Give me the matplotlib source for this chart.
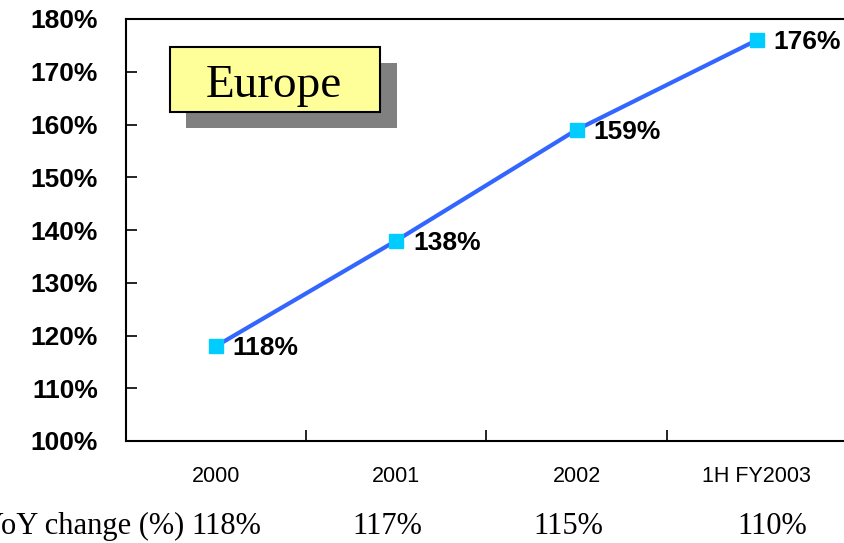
import matplotlib
matplotlib.use("Agg")
import matplotlib.pyplot as plt
from matplotlib.patches import Rectangle

categories = ["2000", "2001", "2002", "1H FY2003"]
values = [118, 138, 159, 176]
yoy_label = "YoY change (%)"
yoy_values = ["118%", "117%", "115%", "110%"]
title_text = "Europe"

fig = plt.figure(figsize=(8.44, 5.43), dpi=100)
ax = fig.add_axes([126/844, 1-441/543, (847-126)/844, (441-19)/543])

x = list(range(len(categories)))
ax.plot(x, values, color="#3366FF", lw=3, marker="s", ms=10,
        mfc="#00CCFF", mec="#00CCFF", zorder=3)
for xi, v in zip(x, values):
    ax.annotate(f"{v}%", (xi, v), xytext=(12, -1.5), textcoords="offset points",
                ha="left", va="center", fontsize=19, fontweight="bold",
                family="Liberation Sans")

ax.set_xlim(-0.5, 3.5)
ax.set_ylim(100, 180)
ax.set_yticks(range(100, 181, 10))
ax.set_yticklabels([f"{t}%" for t in range(100, 181, 10)],
                   fontsize=19, fontweight="bold", family="Liberation Sans")
ax.set_xticks([0.5, 1.5, 2.5])
ax.set_xticklabels([])
ax.tick_params(axis="both", direction="in", length=8, width=1.2)
ax.tick_params(axis="y", pad=20)
for s in ax.spines.values():
    s.set_linewidth(1.5)
    s.set_color("black")

for xi, c in zip(x, categories):
    ax.text(xi, 1-477/543, c, transform=ax.get_xaxis_transform() if False else
            matplotlib.transforms.blended_transform_factory(ax.transData, fig.transFigure),
            ha="center", va="center", fontsize=15.5, family="Liberation Sans")

# YoY row
yoy_x = [226, 387, 568, 772]
yoy_y = 1 - 534/543
fig.text(184/844, yoy_y, yoy_label, ha="right", va="baseline", fontsize=22,
         family="Liberation Serif")
for xp, t in zip(yoy_x, yoy_values):
    fig.text(xp/844, yoy_y, t, ha="center", va="baseline", fontsize=22,
             family="Liberation Serif")

# Title box with shadow
fig.patches.append(Rectangle((186/844, 1-128/543), 211/844, 65/543,
                             transform=fig.transFigure, facecolor="#808080",
                             edgecolor="none", zorder=5))
fig.patches.append(Rectangle((170/844, 1-112/543), 210/844, 65/543,
                             transform=fig.transFigure, facecolor="#FFFF99",
                             edgecolor="black", lw=1.5, zorder=6))
fig.text(274/844, 1-97/543, title_text, ha="center", va="baseline", fontsize=34,
         family="Liberation Serif", zorder=7)

fig.savefig("out.png", dpi=100)
